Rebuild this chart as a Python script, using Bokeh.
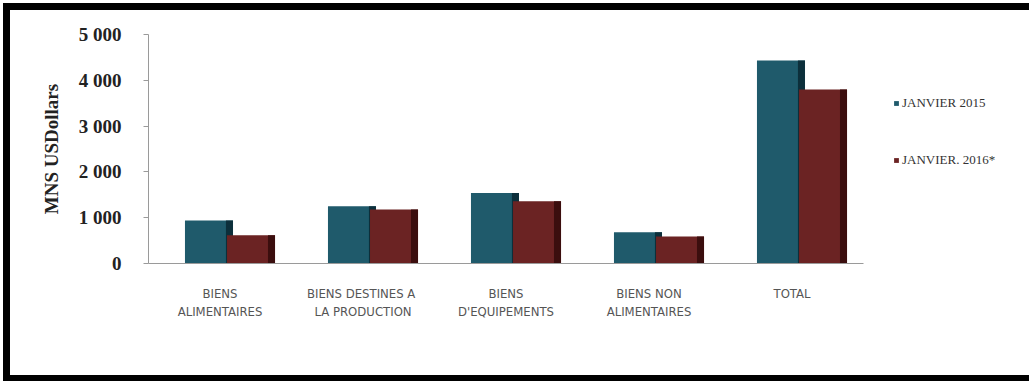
from bokeh.plotting import figure
from bokeh.models import FactorRange, Range1d, Legend, LegendItem, FixedTicker, ColumnDataSource, InlineStyleSheet
from bokeh.transform import dodge
from bokeh.embed import file_html
from bokeh.resources import INLINE

categories = ["BIENS\nALIMENTAIRES", "BIENS DESTINES  A\nLA PRODUCTION", "BIENS\nD'EQUIPEMENTS",
              "BIENS NON\nALIMENTAIRES", "TOTAL"]
series_names = ["JANVIER 2015", "JANVIER. 2016*"]
jan_2015 = [940, 1250, 1540, 685, 4430]
jan_2016 = [615, 1180, 1360, 590, 3800]
y_ticks = [0, 1000, 2000, 3000, 4000, 5000]
y_tick_labels = ["0", "1 000", "2 000", "3 000", "4 000", "5 000"]
y_title = "MNS USDollars"

source = ColumnDataSource(dict(cat=categories, a=jan_2015, b=jan_2016))

frame_css = InlineStyleSheet(css="""
:host { position: relative; }
:host::after {
  content: ""; position: absolute; left: 3px; top: 3px; right: 0px; bottom: 0px;
  border-style: solid; border-color: #000; border-width: 7px 4px 6px 7px;
  pointer-events: none; z-index: 1000; box-sizing: border-box;
}
""")

p = figure(width=1029, height=381, frame_width=715, frame_height=229,
           x_range=FactorRange(*categories), y_range=Range1d(0, 5000),
           output_backend="svg", toolbar_location=None,
           min_border_left=148, min_border_right=166, min_border_top=34, min_border_bottom=118)
p.stylesheets = [frame_css]
p.outline_line_color = None
p.xgrid.grid_line_color = None
p.ygrid.grid_line_color = None
p.background_fill_color = "white"
p.border_fill_color = "white"

teal, teal_dark = "#1f5a6b", "#0c2f3b"
red, red_dark = "#6b2323", "#3b0e0e"

r1 = p.vbar(x=dodge("cat", -0.077, range=p.x_range), top="a", width=0.336, source=source,
            fill_color=teal, line_color=None)
p.vbar(x=dodge("cat", 0.066, range=p.x_range), top="a", width=0.049, source=source,
       fill_color=teal_dark, line_color=None)
r2 = p.vbar(x=dodge("cat", 0.217, range=p.x_range), top="b", width=0.336, source=source,
            fill_color=red, line_color=None)
p.vbar(x=dodge("cat", 0.36, range=p.x_range), top="b", width=0.049, source=source,
       fill_color=red_dark, line_color=None)

# y axis
ya = p.yaxis[0]
ya.ticker = FixedTicker(ticks=y_ticks)
ya.major_label_overrides = {t: l for t, l in zip(y_ticks, y_tick_labels)}
ya.major_label_text_font = "Liberation Serif"
ya.major_label_text_font_style = "bold"
ya.major_label_text_font_size = "19px"
ya.major_label_text_color = "#222222"
ya.major_label_standoff = 22
ya.major_tick_out = 5
ya.major_tick_in = 0
ya.minor_tick_line_color = None
ya.axis_line_color = "#9a9a9a"
ya.major_tick_line_color = "#9a9a9a"
ya.axis_label = y_title
ya.axis_label_text_font = "Liberation Serif"
ya.axis_label_text_font_style = "bold"
ya.axis_label_text_font_size = "19px"
ya.axis_label_text_color = "#222222"
ya.axis_label_standoff = 14

# x axis
xa = p.xaxis[0]
xa.axis_line_color = "#9a9a9a"
xa.major_tick_line_color = None
xa.minor_tick_line_color = None
xa.major_label_text_font = "'Liberation Sans Narrow', 'DejaVu Sans Condensed', sans-serif"
xa.major_label_text_font_size = "13px"
xa.major_label_text_color = "#555555"
xa.major_label_standoff = 16

legend = Legend(items=[LegendItem(label=series_names[0], renderers=[r1]),
                       LegendItem(label=series_names[1], renderers=[r2])],
                location=(30, 93), orientation="vertical",
                glyph_width=6, glyph_height=6, label_standoff=3, spacing=37,
                padding=0, margin=0, border_line_color=None, background_fill_alpha=0,
                label_text_font="Liberation Serif", label_text_font_size="13px",
                label_text_color="#333333", label_height=20)
p.add_layout(legend, "right")

open("out.html", "w").write(file_html(p, INLINE))
